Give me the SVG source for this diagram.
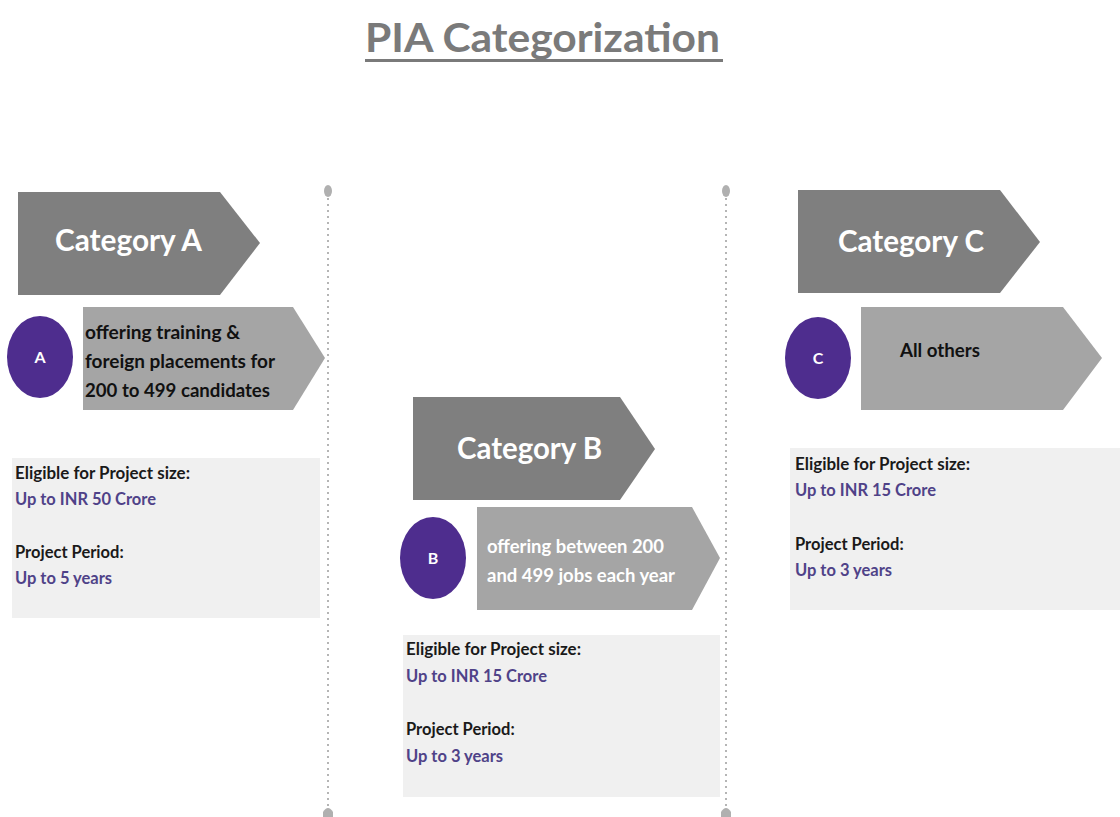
<svg xmlns="http://www.w3.org/2000/svg" width="1120" height="817" viewBox="0 0 1120 817">
  <style>
    text { font-family: Lato, "Open Sans", "Liberation Sans", sans-serif; }
    .title { font-size: 40px; font-weight: 700; fill: #7a7a7a; }
    .head { fill: #7f7f7f; }
    .sub { fill: #a5a5a5; }
    .headtxt { font-size: 30px; font-weight: 700; fill: #ffffff; }
    .subtxt { font-size: 18.5px; font-weight: 700; }
    .badge { fill: #4e2d8e; }
    .badgetxt { font-size: 16px; font-weight: 700; fill: #ffffff; text-anchor: middle; }
    .panel { fill: #f0f0f0; }
    .lbl { font-size: 16.5px; font-weight: 700; fill: #1a1a1a; }
    .val { font-size: 16.5px; font-weight: 700; fill: #4f4288; }
    .divider { stroke: #b5b5b5; stroke-width: 2; stroke-dasharray: 2 4; fill: none; }
    .pin { fill: #b0b0b0; }
  </style>

  <rect width="1120" height="817" fill="#ffffff"/>

  <!-- title -->
  <g id="title">
    <text class="title" x="365" y="52" textLength="355" lengthAdjust="spacingAndGlyphs">PIA Categorization</text>
    <rect x="365" y="59" width="358" height="3" fill="#7a7a7a"/>
  </g>

  <!-- column dividers -->
  <g id="connectors">
    <line class="divider" x1="328" y1="198" x2="328" y2="806"/>
    <ellipse class="pin" cx="328" cy="191" rx="4" ry="6"/>
    <path class="pin" d="M323,817 L323,812 Q328,804 333,812 L333,817 Z"/>
    <line class="divider" x1="726" y1="198" x2="726" y2="806"/>
    <ellipse class="pin" cx="726" cy="191" rx="4" ry="6"/>
    <path class="pin" d="M721,817 L721,812 Q726,804 731,812 L731,817 Z"/>
  </g>

  <!-- Category A -->
  <g id="cat-a-head">
    <polygon class="head" points="18,192 220,192 260,243 220,295 18,295"/>
    <text class="headtxt" x="55" y="251" textLength="147" lengthAdjust="spacingAndGlyphs">Category A</text>
  </g>
  <g id="cat-a-desc">
    <polygon class="sub" points="83,307 293,307 325,358 293,410 83,410"/>
    <text class="subtxt" x="85" y="339" fill="#111111" textLength="155" lengthAdjust="spacingAndGlyphs">offering training &amp;</text>
    <text class="subtxt" x="85" y="368" fill="#111111" textLength="190" lengthAdjust="spacingAndGlyphs">foreign placements for</text>
    <text class="subtxt" x="85" y="397" fill="#111111" textLength="185" lengthAdjust="spacingAndGlyphs">200 to 499 candidates</text>
  </g>
  <g id="cat-a-badge">
    <ellipse class="badge" cx="40" cy="357" rx="33" ry="41"/>
    <text class="badgetxt" x="40" y="363">A</text>
  </g>
  <g id="cat-a-terms">
    <rect class="panel" x="12" y="458" width="308" height="160"/>
    <text class="lbl" x="15" y="479" textLength="175" lengthAdjust="spacingAndGlyphs">Eligible for Project size:</text>
    <text class="val" x="15" y="505" textLength="141" lengthAdjust="spacingAndGlyphs">Up to INR 50 Crore</text>
    <text class="lbl" x="15" y="558">Project Period:</text>
    <text class="val" x="15" y="584">Up to 5 years</text>
  </g>

  <!-- Category B -->
  <g id="cat-b-head">
    <polygon class="head" points="413,397 620,397 655,449 620,500 413,500"/>
    <text class="headtxt" x="457" y="459" textLength="145" lengthAdjust="spacingAndGlyphs">Category B</text>
  </g>
  <g id="cat-b-desc">
    <polygon class="sub" points="477,507 692,507 720,558 692,610 477,610"/>
    <text class="subtxt" x="487" y="553" fill="#ffffff" textLength="177" lengthAdjust="spacingAndGlyphs">offering between 200</text>
    <text class="subtxt" x="487" y="582" fill="#ffffff" textLength="188" lengthAdjust="spacingAndGlyphs">and 499 jobs each year</text>
  </g>
  <g id="cat-b-badge">
    <ellipse class="badge" cx="433" cy="558" rx="33" ry="41"/>
    <text class="badgetxt" x="433" y="564">B</text>
  </g>
  <g id="cat-b-terms">
    <rect class="panel" x="403" y="635" width="317" height="162"/>
    <text class="lbl" x="406" y="655" textLength="175" lengthAdjust="spacingAndGlyphs">Eligible for Project size:</text>
    <text class="val" x="406" y="682" textLength="141" lengthAdjust="spacingAndGlyphs">Up to INR 15 Crore</text>
    <text class="lbl" x="406" y="735">Project Period:</text>
    <text class="val" x="406" y="762">Up to 3 years</text>
  </g>

  <!-- Category C -->
  <g id="cat-c-head">
    <polygon class="head" points="798,190 1000,190 1040,242 1000,293 798,293"/>
    <text class="headtxt" x="838" y="252" textLength="146" lengthAdjust="spacingAndGlyphs">Category C</text>
  </g>
  <g id="cat-c-desc">
    <polygon class="sub" points="861,307 1063,307 1102,358 1063,410 861,410"/>
    <text class="subtxt" x="900" y="357" fill="#111111" textLength="80" lengthAdjust="spacingAndGlyphs">All others</text>
  </g>
  <g id="cat-c-badge">
    <ellipse class="badge" cx="818" cy="358" rx="33" ry="41"/>
    <text class="badgetxt" x="818" y="364">C</text>
  </g>
  <g id="cat-c-terms">
    <rect class="panel" x="790" y="448" width="330" height="162"/>
    <text class="lbl" x="795" y="470" textLength="175" lengthAdjust="spacingAndGlyphs">Eligible for Project size:</text>
    <text class="val" x="795" y="496" textLength="141" lengthAdjust="spacingAndGlyphs">Up to INR 15 Crore</text>
    <text class="lbl" x="795" y="550">Project Period:</text>
    <text class="val" x="795" y="576">Up to 3 years</text>
  </g>
</svg>
